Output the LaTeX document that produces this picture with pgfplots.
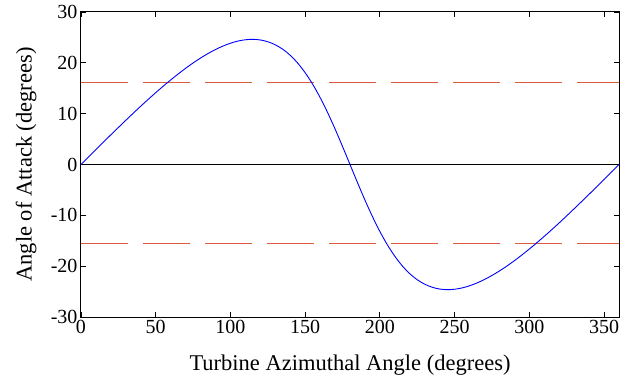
\documentclass[border=0pt]{standalone}
\usepackage{fontspec}
\setmainfont{Liberation Serif}
\usepackage{pgfplots}
\pgfplotsset{compat=1.18}
\definecolor{aoa}{RGB}{0,0,255}
\definecolor{limitc}{RGB}{222,92,62}
\begin{document}
\begin{tikzpicture}
\begin{axis}[
  scale only axis,
  width=538bp, height=305bp,
  xmin=0, xmax=360, ymin=-30, ymax=30,
  xtick={0,50,...,350}, ytick={-30,-20,...,30},
  /pgf/number format/assume math mode=true,
  tick label style={font=\rmfamily\fontsize{20bp}{22bp}\selectfont},
  label style={font=\rmfamily\fontsize{22.5bp}{26bp}\selectfont},
  axis line style={line width=1bp},
  every tick/.style={black, line width=0.8bp},
  major tick length=5bp,
  xlabel={Turbine Azimuthal Angle (degrees)},
  ylabel={Angle of Attack (degrees)},
  xlabel style={at={(axis description cs:0.5,-0.177)}, anchor=base},
  ylabel style={at={(axis description cs:-0.092,0.5)}, anchor=base},
]
\addplot[black, line width=0.8bp] coordinates {(0,0) (360,0)};
\addplot[limitc, line width=1.3bp, dash pattern=on 47bp off 15bp] coordinates {(0,16.1) (360,16.1)};
\addplot[limitc, line width=1.3bp, dash pattern=on 47bp off 15bp] coordinates {(0,-15.6) (360,-15.6)};
\addplot[aoa, line width=0.9bp, smooth] coordinates {
(0,0) (5,1.47) (10,2.94) (15,4.40) (20,5.85) (25,7.28) (30,8.70) (35,10.10)
(40,11.48) (45,12.82) (50,14.13) (55,15.40) (60,16.63) (65,17.80) (70,18.92)
(75,19.97) (80,20.94) (85,21.83) (90,22.62) (95,23.30) (100,23.86) (105,24.28)
(110,24.54) (115,24.62) (120,24.50) (125,24.15) (130,23.55) (135,22.67)
(140,21.48) (145,19.95) (150,18.05) (155,15.80) (160,13.18) (165,10.23)
(170,7.00) (175,3.55) (180,0)
(185,-3.55) (190,-7.00) (195,-10.23) (200,-13.18) (205,-15.80) (210,-18.05)
(215,-19.95) (220,-21.48) (225,-22.67) (230,-23.55) (235,-24.15) (240,-24.50)
(245,-24.62) (250,-24.54) (255,-24.28) (260,-23.86) (265,-23.30) (270,-22.62)
(275,-21.83) (280,-20.94) (285,-19.97) (290,-18.92) (295,-17.80) (300,-16.63)
(305,-15.40) (310,-14.13) (315,-12.82) (320,-11.48) (325,-10.10) (330,-8.70)
(335,-7.28) (340,-5.85) (345,-4.40) (350,-2.94) (355,-1.47) (360,0)
};
\end{axis}
\pgfresetboundingbox
\path ([xshift=-81bp,yshift=-62bp]current axis.south west) rectangle ([xshift=12bp,yshift=12bp]current axis.north east);
\end{tikzpicture}
\end{document}
